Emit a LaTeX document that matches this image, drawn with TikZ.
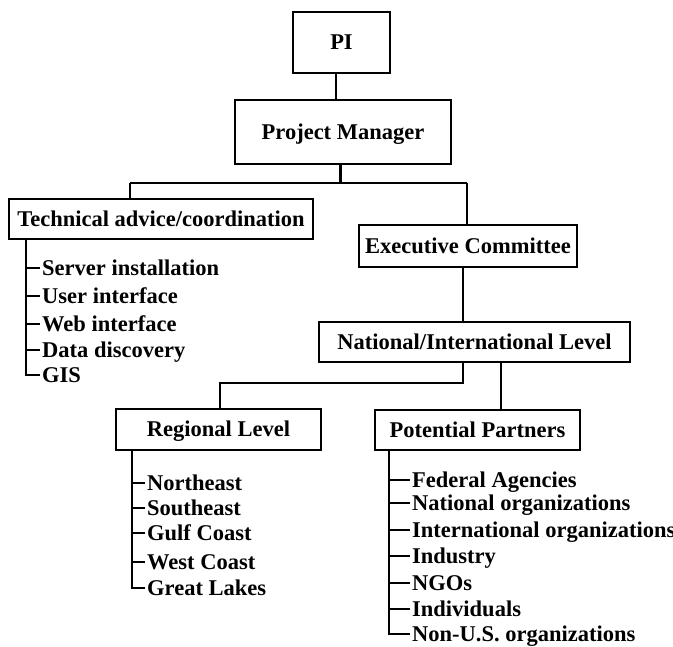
\documentclass[tikz,border=0pt]{standalone}
\usepackage{fontspec}
\setmainfont{Liberation Serif}
\usetikzlibrary{positioning}

\begin{document}
\begin{tikzpicture}[
    x=1pt, y=-1pt,
    box/.style={rectangle, draw, line width=1.6pt, inner sep=0pt, align=center, font=\fontsize{22.5}{26}\selectfont\bfseries, text height=15pt, text depth=0pt},
    item/.style={anchor=west, inner xsep=2pt, inner ysep=0pt, font=\fontsize{22.5}{26}\selectfont\bfseries, text height=15pt, text depth=0pt},
    line/.style={line width=1.5pt},
    mainline/.style={line width=3pt}
]
\useasboundingbox (0,0) rectangle (673,647);

% Boxes
\node[box, minimum width=97pt, minimum height=61pt] (pi) at (341.5,42.5) {PI};
\node[box, minimum width=216pt, minimum height=64pt] (pm) at (343,132) {Project Manager};
\node[box, minimum width=304pt, minimum height=40pt] (tech) at (161,219) {Technical advice/coordination};
\node[box, minimum width=218pt, minimum height=42pt] (exec) at (468,246) {Executive Committee};
\node[box, minimum width=311pt, minimum height=40pt] (nat) at (474.5,342) {National/International Level};
\node[box, minimum width=205pt, minimum height=41pt] (reg) at (218.5,429.5) {Regional Level};
\node[box, minimum width=205pt, minimum height=40pt] (part) at (477.5,430) {Potential Partners};

% Technical items
\node[item] (srv) at (40,268) {Server installation};
\node[item] (usr) at (40,296) {User interface};
\node[item] (web) at (40,324) {Web interface};
\node[item] (data) at (40,350) {Data discovery};
\node[item] (gis) at (40,375) {GIS};

% Regional items
\node[item] (ne) at (145,483) {Northeast};
\node[item] (se) at (145,508) {Southeast};
\node[item] (gulf) at (145,533) {Gulf Coast};
\node[item] (west) at (145,562) {West Coast};
\node[item] (lakes) at (145,588) {Great Lakes};

% Partner items
\node[item] (fed) at (410,480) {Federal Agencies};
\node[item] (natorg) at (410,503) {National organizations};
\node[item] (intorg) at (410,530) {International organizations};
\node[item] (ind) at (410,556) {Industry};
\node[item] (ngo) at (410,583) {NGOs};
\node[item] (indiv) at (410,609) {Individuals};
\node[item] (nonus) at (410,634) {Non-U.S. organizations};

% Connectors
\coordinate (split) at (340,183);
\coordinate (techtop) at (130,183);
\coordinate (exectop) at (467,183);
\coordinate (bend) at (463,383);
\coordinate (regtop) at (220,383);
\coordinate (partx) at (501,0);

\draw[line] ([xshift=-5.5pt]pi.south) -- ([xshift=-5.5pt]pi.south |- pm.north);
\draw[mainline] (pm.south -| split) -- (split);
\draw[line] (techtop) -- (exectop);
\draw[line] (techtop) -- (techtop |- tech.north);
\draw[line] (exectop) -- (exectop |- exec.north);
\draw[line] ([xshift=-5pt]exec.south) -- ([xshift=-5pt]exec.south |- nat.north);
\draw[line] (nat.south -| bend) -- (bend) -- (regtop) -- (regtop |- reg.north);
\draw[line] (nat.south -| partx) -- (partx |- part.north);

% Trees
\coordinate (treea) at (26,0);
\coordinate (treeb) at (132,0);
\coordinate (treec) at (389,0);
\draw[line] (tech.south -| treea) |- (gis.west);
\draw[line] (treea |- srv.west) -- (srv.west);
\draw[line] (treea |- usr.west) -- (usr.west);
\draw[line] (treea |- web.west) -- (web.west);
\draw[line] (treea |- data.west) -- (data.west);

\draw[line] (reg.south -| treeb) |- (lakes.west);
\draw[line] (treeb |- ne.west) -- (ne.west);
\draw[line] (treeb |- se.west) -- (se.west);
\draw[line] (treeb |- gulf.west) -- (gulf.west);
\draw[line] (treeb |- west.west) -- (west.west);

\draw[line] (part.south -| treec) |- (nonus.west);
\draw[line] (treec |- fed.west) -- (fed.west);
\draw[line] (treec |- natorg.west) -- (natorg.west);
\draw[line] (treec |- intorg.west) -- (intorg.west);
\draw[line] (treec |- ind.west) -- (ind.west);
\draw[line] (treec |- ngo.west) -- (ngo.west);
\draw[line] (treec |- indiv.west) -- (indiv.west);

\end{tikzpicture}
\end{document}
